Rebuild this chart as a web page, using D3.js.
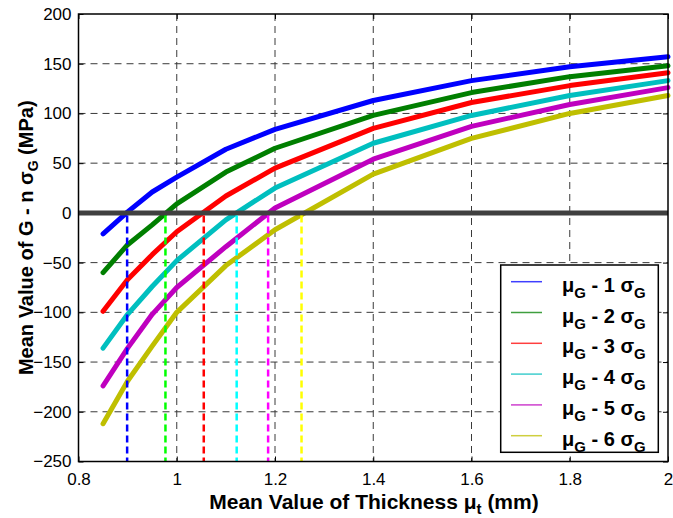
<!DOCTYPE html>
<html>
<head>
<meta charset="utf-8">
<script src="https://cdn.jsdelivr.net/npm/d3@7"></script>
<style>
body{margin:0;background:#fff;}
svg{display:block;font-family:"Liberation Sans",Arial,Helvetica,sans-serif;}
</style>
</head>
<body>
<svg id="chart" width="673" height="518"></svg>
<script>
const thickness = [0.85, 0.9, 0.95, 1.0, 1.1, 1.2, 1.4, 1.6, 1.8, 2.0];
const seriesN = [1, 2, 3, 4, 5, 6];
const s1 = [-21, 1, 21, 36, 64, 84, 113, 133, 147, 157];
const s2 = [-60, -32, -12, 9, 41, 65, 98, 121, 137, 148];
const s3 = [-99, -67, -42, -19, 17, 45, 85, 111, 128, 141];
const s4 = [-136, -102, -74, -48, -7, 25, 70, 98, 118, 133];
const s5 = [-174, -136, -102, -75, -34, 5, 54, 87, 109, 126];
const s6 = [-212, -169, -134, -100, -53, -17, 39, 75, 100, 118];
const crossings = [0.899, 0.977, 1.055, 1.122, 1.186, 1.254];
const lineColors = ["#0000ff", "#007f00", "#ff0000", "#00bfbf", "#bf00bf", "#bfbf00"];
const dashColors = ["#0000ff", "#00ff00", "#ff0000", "#00ffff", "#ff00ff", "#ffff00"];
const xTicks = [0.8, 1, 1.2, 1.4, 1.6, 1.8, 2];
const yTicks = [-250, -200, -150, -100, -50, 0, 50, 100, 150, 200];
const allSeries = [s1, s2, s3, s4, s5, s6];

const svg = d3.select("#chart");
const m = {left: 78.5, top: 14, right: 668, bottom: 461.5};
const x = d3.scaleLinear().domain([0.8, 2]).range([m.left, m.right]);
const y = d3.scaleLinear().domain([-250, 200]).range([m.bottom, m.top]);

// grid
const grid = svg.append("g");
grid.selectAll(".vg").data(xTicks.slice(1, -1)).join("line")
  .attr("x1", d => x(d)).attr("x2", d => x(d)).attr("y1", m.top).attr("y2", m.bottom)
  .attr("stroke", "#3a3a3a").attr("stroke-width", 1).attr("stroke-dasharray", "7,5");
grid.selectAll(".hg").data(yTicks.slice(1, -1)).join("line")
  .attr("y1", d => y(d)).attr("y2", d => y(d)).attr("x1", m.left).attr("x2", m.right)
  .attr("stroke", "#3a3a3a").attr("stroke-width", 1).attr("stroke-dasharray", "7,5");

// axes with inward ticks
const axB = d3.axisBottom(x).tickValues(xTicks).tickSize(-5).tickPadding(11).tickFormat(d3.format("~g"));
const axL = d3.axisLeft(y).tickValues(yTicks).tickSize(-5).tickPadding(7).tickFormat(d3.format("~g"));
const axT = d3.axisTop(x).tickValues(xTicks).tickSize(-5).tickFormat("");
const axR = d3.axisRight(y).tickValues(yTicks).tickSize(-5).tickFormat("");
function styleAxis(g){
  g.select(".domain").remove();
  g.selectAll("line").attr("stroke", "#000").attr("stroke-width", 1);
  g.selectAll("text").attr("font-size", 17).attr("fill", "#000").attr("font-family", "Liberation Sans, Arial, sans-serif");
}
svg.append("g").attr("transform", `translate(0,${m.bottom})`).call(axB).call(styleAxis);
svg.append("g").attr("transform", `translate(${m.left},0)`).call(axL).call(styleAxis);
svg.append("g").attr("transform", `translate(0,${m.top})`).call(axT).call(styleAxis);
svg.append("g").attr("transform", `translate(${m.right},0)`).call(axR).call(styleAxis);

// curves
const line = d3.line().x((d, i) => x(thickness[i])).y(d => y(d));
svg.append("g").selectAll("path").data(allSeries).join("path")
  .attr("d", d => line(d)).attr("fill", "none")
  .attr("stroke", (d, i) => lineColors[i]).attr("stroke-width", 5)
  .attr("stroke-linecap", "round").attr("stroke-linejoin", "round");

// zero line
svg.append("line").attr("x1", m.left).attr("x2", m.right).attr("y1", y(0)).attr("y2", y(0))
  .attr("stroke", "#404040").attr("stroke-width", 5);

// vertical dashed at crossings
svg.append("g").selectAll("line").data(crossings).join("line")
  .attr("x1", d => x(d)).attr("x2", d => x(d)).attr("y1", y(0) + 2.5).attr("y2", m.bottom)
  .attr("stroke", (d, i) => dashColors[i]).attr("stroke-width", 2.5).attr("stroke-dasharray", "7,4");

// frame
svg.append("rect").attr("x", m.left).attr("y", m.top).attr("width", m.right - m.left).attr("height", m.bottom - m.top)
  .attr("fill", "none").attr("stroke", "#000").attr("stroke-width", 1.5);

// axis titles
const xt = svg.append("text").attr("x", 374).attr("y", 509).attr("text-anchor", "middle")
  .attr("font-size", 21).attr("font-weight", "bold").attr("fill", "#000");
xt.append("tspan").text("Mean Value of Thickness \u03bc");
xt.append("tspan").attr("dy", 5).attr("font-size", 15).text("t");
xt.append("tspan").attr("dy", -5).text(" (mm)");

const yt = svg.append("text").attr("transform", `translate(33,${(m.top + m.bottom) / 2}) rotate(-90)`)
  .attr("text-anchor", "middle").attr("font-size", 20).attr("font-weight", "bold").attr("fill", "#000");
yt.append("tspan").text("Mean Value of G - n \u03c3");
yt.append("tspan").attr("dy", 5).attr("font-size", 14).text("G");
yt.append("tspan").attr("dy", -5).text(" (MPa)");

// legend
const lg = svg.append("g");
lg.append("rect").attr("x", 500.7).attr("y", 265).attr("width", 157.6).attr("height", 187.3)
  .attr("fill", "#fff").attr("stroke", "#000").attr("stroke-width", 1.5);
const rows = lg.selectAll("g.row").data(seriesN).join("g").attr("class", "row")
  .attr("transform", (d, i) => `translate(0,${281.7 + i * 30.8})`);
rows.append("line").attr("x1", 511).attr("x2", 542).attr("y1", 0).attr("y2", 0)
  .attr("stroke", (d, i) => lineColors[i]).attr("stroke-width", 1.5).attr("opacity", 0.75);
const lt = rows.append("text").attr("x", 562).attr("y", 10).attr("font-size", 20).attr("font-weight", "bold").attr("fill", "#000");
lt.append("tspan").text("\u03bc");
lt.append("tspan").attr("dy", 6).attr("font-size", 15).text("G");
lt.append("tspan").attr("dy", -6).text(d => " - " + d + " \u03c3");
lt.append("tspan").attr("dy", 6).attr("font-size", 15).text("G");
</script>
</body>
</html>
